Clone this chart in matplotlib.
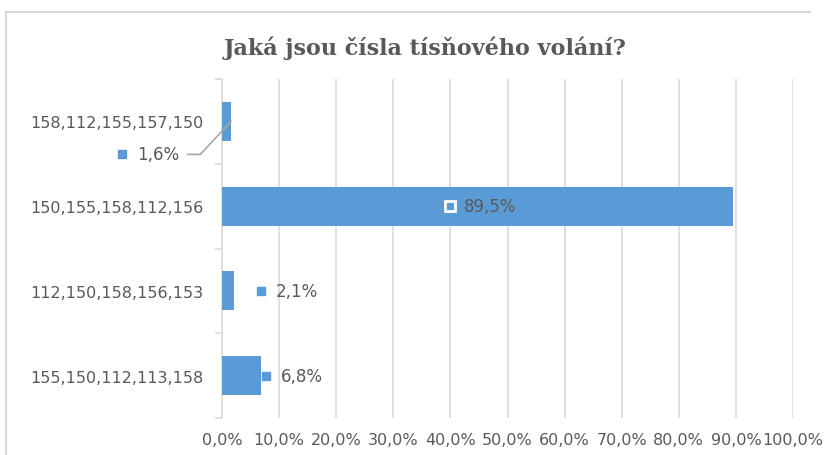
import matplotlib.pyplot as plt
from matplotlib.lines import Line2D
from matplotlib.transforms import offset_copy

# data (top to bottom as in the chart)
categories = ['158,112,155,157,150', '150,155,158,112,156',
              '112,150,158,156,153', '155,150,112,113,158']
values = [1.6, 89.5, 2.1, 6.8]
xticks = [0, 10, 20, 30, 40, 50, 60, 70, 80, 90, 100]
title = 'Jaká jsou čísla tísňového volání?'

blue = '#5B9BD5'
grey = '#595959'
gridc = '#D9D9D9'

fig = plt.figure(figsize=(8.35, 4.56), dpi=100)
ax = fig.add_axes([222/835, 1-419/456, (793-222)/835, (419-80)/456])

ypos = list(range(len(categories)))
ax.barh(ypos, values, height=0.46, color=blue, zorder=3)
ax.set_ylim(len(categories)-0.5, -0.5)
ax.set_xlim(0, 100)

# axes look
for s in ['top', 'right', 'bottom']:
    ax.spines[s].set_visible(False)
ax.spines['left'].set_color(gridc)
ax.spines['left'].set_linewidth(1.2)
ax.set_xticks(xticks)
ax.set_xticklabels([f'{t:.1f}%'.replace('.', ',') for t in xticks])
ax.tick_params(axis='x', length=0, pad=10, labelsize=11.5, labelcolor=grey)
for t in xticks[1:]:
    ax.axvline(t, color=gridc, lw=1.2, zorder=1)

# category labels + separator ticks
ax.set_yticks([y - 0.5 for y in ypos] + [len(categories)-0.5])
ax.set_yticklabels([])
ax.tick_params(axis='y', length=5, color=gridc, width=1.2)
ax.set_yticks(ypos, minor=True)
ax.set_yticklabels(categories, minor=True)
ax.tick_params(axis='y', which='minor', length=0, pad=13.5, labelsize=11.5,
               labelcolor=grey)

# data labels: (marker dx, dy, text dx) in pixels from bar end/centre
lab_off = [(-109, -33, -94), None, (27, 0, 42), (5, 0, 20)]
for i, (v, off) in enumerate(zip(values, lab_off)):
    txt = f'{v:.1f}%'.replace('.', ',')
    if off is None:
        # centred inside the bar
        c = v / 2
        tr = offset_copy(ax.transData, fig=fig, x=-28, y=0, units='dots')
        ax.plot(c, i, marker='s', ms=7, mfc=blue, mec='white', mew=2,
                transform=tr, zorder=5)
        ax.annotate(txt, (c, i), xytext=(-14, 0), textcoords='offset pixels',
                    ha='left', va='center', fontsize=12, color=grey, zorder=5)
        continue
    mdx, mdy, tdx = off
    tr = offset_copy(ax.transData, fig=fig, x=mdx, y=mdy, units='dots')
    ax.plot(v, i, marker='s', ms=5.5, color=blue, transform=tr, zorder=5,
            clip_on=False)
    if i == 0:
        ax.annotate(txt, (v, i), xytext=(tdx, mdy), textcoords='offset pixels',
                    ha='left', va='center', fontsize=12, color=grey,
                    annotation_clip=False,
                    arrowprops=dict(arrowstyle='-', color='#A6A6A6', lw=1.2,
                                    relpos=(1, 0.5), shrinkA=4, shrinkB=0,
                                    connectionstyle='angle,angleA=0,angleB=47,rad=0'))
    else:
        ax.annotate(txt, (v, i), xytext=(tdx, mdy), textcoords='offset pixels',
                    ha='left', va='center', fontsize=12, color=grey)

fig.text(425/835, 1-48/456, title, ha='center', va='center', fontsize=16,
         fontweight='bold', color=grey, family='DejaVu Serif')

# chart border: left edge and top edge only
fx, fy = 6/835, 1-13/456
fig.add_artist(Line2D([fx, fx], [-0.05, fy], color=gridc, lw=1.5,
                      transform=fig.transFigure))
fig.add_artist(Line2D([fx, 0.97], [fy, fy], color=gridc, lw=1.5,
                      transform=fig.transFigure))

fig.savefig('out.png', dpi=100)
